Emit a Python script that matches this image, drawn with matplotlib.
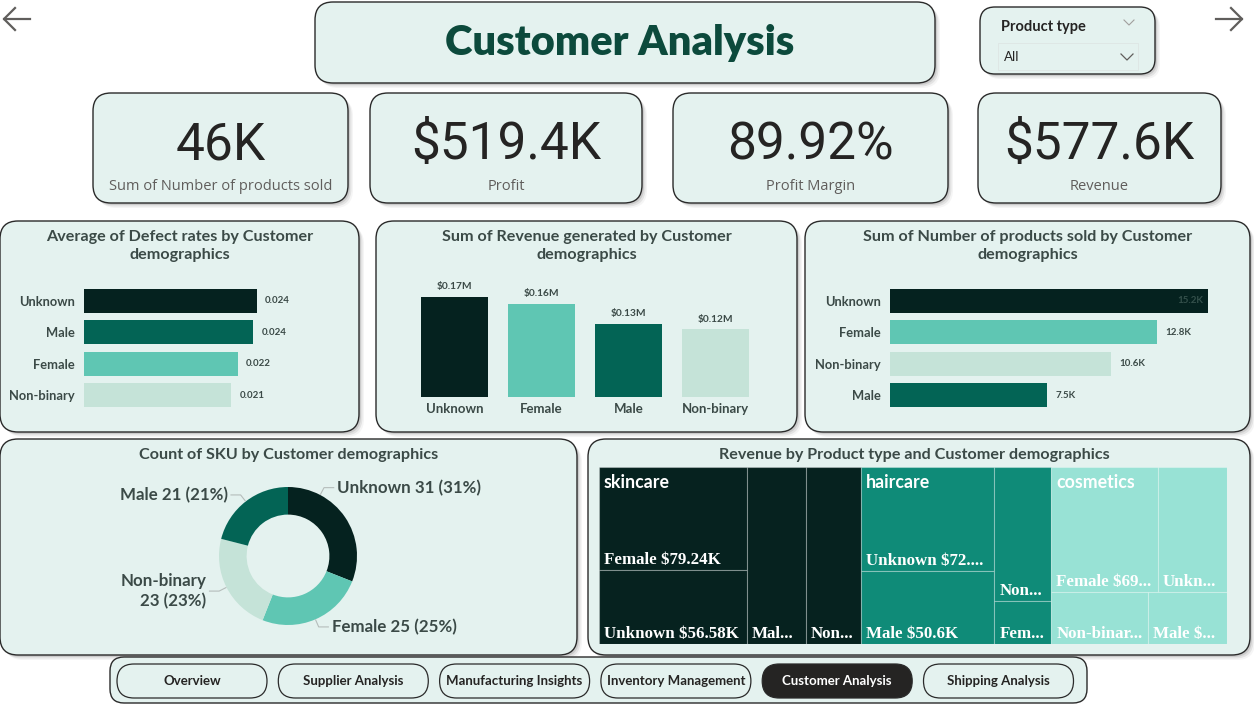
import matplotlib
matplotlib.use("Agg")
import matplotlib.pyplot as plt
from matplotlib.patches import FancyBboxPatch, Rectangle
import numpy as np

W, H = 1254, 705

# ---- data ----
page_title = "Customer Analysis"
slicer_title = "Product type"
slicer_value = "All"

kpi_values = ["46K", "$519.4K", "89.92%", "$577.6K"]
kpi_labels = ["Sum of Number of products sold", "Profit", "Profit Margin", "Revenue"]

defect_cats = ["Unknown", "Male", "Female", "Non-binary"]
defect_rates = [0.0244, 0.0239, 0.0217, 0.0208]

revenue_cats = ["Unknown", "Female", "Male", "Non-binary"]
revenue_m = [0.1730, 0.1616, 0.1270, 0.1171]

sold_cats = ["Unknown", "Female", "Non-binary", "Male"]
sold_k = [15.22, 12.80, 10.60, 7.51]

sku_cats = ["Unknown", "Female", "Non-binary", "Male"]
sku_counts = [31, 25, 23, 21]

product_types = ["skincare", "haircare", "cosmetics"]
tree_demo = [["Female", "Unknown", "Male", "Non-binary"],
             ["Unknown", "Male", "Non-binary", "Female"],
             ["Female", "Unknown", "Non-binary", "Male"]]
tree_rev = [[79.24, 56.58, 54.20, 50.55],
            [72.45, 50.60, 39.60, 12.80],
            [69.20, 44.70, 26.30, 21.40]]

nav_pages = ["Overview", "Supplier Analysis", "Manufacturing Insights",
             "Inventory Management", "Customer Analysis", "Shipping Analysis"]
active_page = "Customer Analysis"

# ---- styling ----
PANEL = "#E4F2EF"
EDGE = "#2A2A2A"
TXT = "#3B4A47"
FONT = "Lato"
DEMO_COLORS = {"Unknown": "#05221F", "Male": "#036455",
               "Female": "#5FC6B3", "Non-binary": "#C5E3D8"}
TREE_COLORS = {"skincare": "#06221F", "haircare": "#0F8B78", "cosmetics": "#98E2D5"}

fig = plt.figure(figsize=(W / 100, H / 100), dpi=100)
fig.patch.set_facecolor("white")
bg = fig.add_axes([0, 0, 1, 1])
bg.set_xlim(0, W)
bg.set_ylim(H, 0)
bg.axis("off")


def card(x0, y0, x1, y1, r=16, fill=PANEL, edge=EDGE, lw=1.0, shadow=True):
    if shadow:
        for k, a in enumerate([0.10, 0.07, 0.04]):
            off = 2 + k * 1.5
            bg.add_patch(FancyBboxPatch((x0 + off, y0 + off), x1 - x0, y1 - y0,
                                        boxstyle=f"round,pad=0,rounding_size={r}",
                                        fc="black", ec="none", alpha=a, zorder=1))
    bg.add_patch(FancyBboxPatch((x0, y0), x1 - x0, y1 - y0,
                                boxstyle=f"round,pad=0,rounding_size={r}",
                                fc=fill, ec=edge, lw=lw, zorder=2))


def px_axes(x0, y0, x1, y1):
    a = fig.add_axes([x0 / W, 1 - y1 / H, (x1 - x0) / W, (y1 - y0) / H])
    a.set_facecolor("none")
    for s in a.spines.values():
        s.set_visible(False)
    return a


def panel_title(cx, cy, s):
    bg.text(cx, cy, s, ha="center", va="center", fontsize=11.6, fontweight="bold",
            color=TXT, fontfamily=FONT, linespacing=1.3, zorder=5)


# ---- header ----
card(315, 2, 935, 83, r=18)
bg.text(620, 43, page_title, ha="center", va="center", fontsize=30, fontweight="heavy",
        color="#0C4A3C", fontfamily="Lato", zorder=5)

card(980, 7, 1155, 74, r=15)
bg.text(1001, 27, slicer_title, ha="left", va="center", fontsize=10.5, fontweight="bold",
        color="#252423", fontfamily=FONT, zorder=5)
bg.add_patch(Rectangle((998, 43), 140, 27, fc="none", ec="#DDE6E4", lw=0.6, zorder=4))
bg.text(1004, 57, slicer_value, ha="left", va="center", fontsize=9.5,
        color="#252423", fontfamily=FONT, zorder=5)
bg.plot([1124, 1129, 1134], [20, 25, 20], color="#A19F9D", lw=0.8, zorder=5)
bg.plot([1121, 1127, 1133], [54, 60, 54], color="#605E5C", lw=0.9, zorder=5)

# navigation arrows
bg.plot([4, 30], [19, 19], color="#605E5C", lw=1.6, zorder=5)
bg.plot([15, 4, 15], [8, 19, 30], color="#605E5C", lw=1.6, zorder=5)
bg.plot([1216, 1242], [19, 19], color="#605E5C", lw=1.6, zorder=5)
bg.plot([1231, 1242, 1231], [8, 19, 30], color="#605E5C", lw=1.6, zorder=5)

# ---- KPI cards ----
kpi_boxes = [(93, 348), (370, 642), (673, 948), (978, 1221)]
for (x0, x1), val, lab in zip(kpi_boxes, kpi_values, kpi_labels):
    card(x0, 93, x1, 203, r=18)
    bg.text((x0 + x1) / 2, 145, val, ha="center", va="center", fontsize=37,
            color="#252423", fontfamily="Roboto", zorder=5)
    bg.text((x0 + x1) / 2, 186, lab, ha="center", va="center", fontsize=10.5,
            color="#605E5C", fontfamily="Open Sans", zorder=5)

# ---- panel frames ----
card(0, 221, 359, 432, r=18)
card(376, 221, 797, 432, r=18)
card(805, 221, 1250, 432, r=18)
card(0, 439, 577, 655, r=18)
card(588, 439, 1250, 655, r=18)

panel_title(180, 246, "Average of Defect rates by Customer\ndemographics")
panel_title(587, 246, "Sum of Revenue generated by Customer\ndemographics")
panel_title(1028, 246, "Sum of Number of products sold by Customer\ndemographics")
panel_title(289, 455, "Count of SKU by Customer demographics")
panel_title(914, 455, "Revenue by Product type and Customer demographics")

# ---- defect rates (horizontal bars) ----
ax = px_axes(84, 285, 300, 411)
y = np.arange(len(defect_cats))
ax.barh(y, defect_rates, height=0.76, color=[DEMO_COLORS[c] for c in defect_cats])
ax.set_ylim(len(defect_cats) - 0.5, -0.5)
ax.set_xlim(0, 0.0305)
ax.set_xticks([])
ax.set_yticks(y, defect_cats)
ax.tick_params(axis="y", length=0, pad=6.5)
for lab in ax.get_yticklabels():
    lab.set(fontfamily=FONT, fontweight="bold", fontsize=9.3, color=TXT)
for yi, v in zip(y, defect_rates):
    ax.annotate(f"{v:.3f}", (v, yi), xytext=(6, 0), textcoords="offset points",
                ha="left", va="center", fontsize=7, fontweight="bold",
                color=TXT, fontfamily=FONT)

# ---- revenue (columns) ----
ax = px_axes(411, 290, 759, 397)
x = np.arange(len(revenue_cats))
ax.bar(x, revenue_m, width=0.77, color=[DEMO_COLORS[c] for c in revenue_cats])
ax.set_xlim(-0.5, len(revenue_cats) - 0.5)
ax.set_ylim(0, 0.185)
ax.set_yticks([])
ax.set_xticks(x, revenue_cats)
ax.tick_params(axis="x", length=0, pad=4)
for lab in ax.get_xticklabels():
    lab.set(fontfamily=FONT, fontweight="bold", fontsize=9.5, color=TXT)
for xi, v in zip(x, revenue_m):
    ax.annotate(f"${v:.2f}M", (xi, v), xytext=(0, 4), textcoords="offset points",
                ha="center", va="bottom", fontsize=7.3, fontweight="bold",
                color=TXT, fontfamily=FONT)

# ---- products sold (horizontal bars) ----
ax = px_axes(890, 285, 1240, 411)
y = np.arange(len(sold_cats))
ax.barh(y, sold_k, height=0.76, color=[DEMO_COLORS[c] for c in sold_cats])
ax.set_ylim(len(sold_cats) - 0.5, -0.5)
ax.set_xlim(0, 16.77)
ax.set_xticks([])
ax.set_yticks(y, sold_cats)
ax.tick_params(axis="y", length=0, pad=6.5)
for lab in ax.get_yticklabels():
    lab.set(fontfamily=FONT, fontweight="bold", fontsize=9.3, color=TXT)
for yi, v in zip(y, sold_k):
    inside = v == max(sold_k)
    ax.annotate(f"{v:.1f}K", (v, yi), xytext=(-3 if inside else 6, 0),
                textcoords="offset points", ha="right" if inside else "left",
                va="center", fontsize=7, fontweight="bold",
                color="#34504B" if inside else TXT, fontfamily=FONT)

# ---- SKU donut ----
R_PX = 69
ax = px_axes(288 - 100, 556 - 100, 288 + 100, 556 + 100)
wedges, _ = ax.pie(sku_counts, colors=[DEMO_COLORS[c] for c in sku_cats], startangle=90,
                   counterclock=False, radius=1,
                   wedgeprops=dict(width=0.40, edgecolor="none"))
ax.set_xlim(-100 / R_PX, 100 / R_PX)
ax.set_ylim(-100 / R_PX, 100 / R_PX)
total = sum(sku_counts)
leader_shift = [28, 0, 0, 0]  # Power BI nudges the first label upwards
for w, name, n, shift in zip(wedges, sku_cats, sku_counts, leader_shift):
    ang = np.deg2rad((w.theta1 + w.theta2) / 2 + shift)
    ex, ey = np.cos(ang), np.sin(ang)
    bx, by = 1.12 * ex, 1.12 * ey
    side = 1 if ex >= 0 else -1
    tx = bx + side * 0.14
    ax.plot([1.01 * ex, bx, tx], [1.01 * ey, by, by], color="#B5BDBB", lw=0.8,
            clip_on=False)
    pct = round(100 * n / total)
    text = f"{name} {n} ({pct}%)" if len(name) <= 7 else f"{name}\n{n} ({pct}%)"
    ax.text(tx + side * 0.05, by, text, ha="left" if side > 0 else "right",
            va="center", fontsize=12.2, fontweight="bold", color=TXT,
            fontfamily=FONT, linespacing=1.25, multialignment="right" if side < 0 else "left",
            clip_on=False)

# ---- treemap ----
PHI = (1 + 5 ** 0.5) / 2


def squarify(values, x0, y0, x1, y1):
    # squarified layout (same rule as d3.treemapSquarify, ratio = golden ratio)
    rects = []
    remaining = float(sum(values))
    i0, n = 0, len(values)
    while i0 < n:
        dx, dy = x1 - x0, y1 - y0
        s = vmin = vmax = values[i0]
        i1 = i0 + 1
        alpha = max(dy / dx, dx / dy) / (remaining * PHI)
        beta = s * s * alpha
        best = max(vmax / beta, beta / vmin)
        while i1 < n:
            v = values[i1]
            s2, mn, mx = s + v, min(vmin, v), max(vmax, v)
            beta = s2 * s2 * alpha
            r = max(mx / beta, beta / mn)
            if r > best:
                break
            s, vmin, vmax, best = s2, mn, mx, r
            i1 += 1
        row = values[i0:i1]
        if dx < dy:
            h = dy * s / remaining
            xa = x0
            for v in row:
                rects.append((xa, y0, dx * v / s, h))
                xa += dx * v / s
            y0 += h
        else:
            wdt = dx * s / remaining
            ya = y0
            for v in row:
                rects.append((x0, ya, wdt, dy * v / s))
                ya += dy * v / s
            x0 += wdt
        remaining -= s
        i0 = i1
    return rects


def kfmt(v):
    return "$" + f"{v:.2f}".rstrip("0").rstrip(".") + "K"


TW, TH = 628, 177
ax = px_axes(599, 467, 599 + TW, 467 + TH)
ax.set_xlim(0, TW)
ax.set_ylim(TH, 0)
ax.set_xticks([])
ax.set_yticks([])
renderer = fig.canvas.get_renderer()


def fit_text(x0, y0, s, max_w, **kw):
    t = ax.text(x0, y0, s, **kw)
    if t.get_window_extent(renderer).width <= max_w:
        return
    for k in range(len(s) - 1, 0, -1):
        t.set_text(s[:k] + "...")
        if t.get_window_extent(renderer).width <= max_w:
            return
    t.remove()


groups = squarify([sum(v) for v in tree_rev], 0, 0, TW, TH)
for g, (gx, gy, gw, gh) in enumerate(groups):
    col = TREE_COLORS[product_types[g]]
    cells = squarify(tree_rev[g], gx, gy, gx + gw, gy + gh)
    for (cx, cy, cw, ch), demo, v in zip(cells, tree_demo[g], tree_rev[g]):
        ax.add_patch(Rectangle((cx, cy), cw, ch, fc=col, ec=(1, 1, 1, 0.28), lw=0.8))
        fit_text(cx + 5, cy + ch - 6, f"{demo} {kfmt(v)}", cw - 10, ha="left",
                 va="baseline", fontsize=12.2, fontweight="bold", color="white",
                 fontfamily="Liberation Serif")
    ax.text(gx + 5, gy + 16, product_types[g], ha="left", va="center", fontsize=12.8,
            fontweight="bold", color="white", fontfamily=FONT)

# ---- page navigation ----
card(110, 657, 1087, 703, r=14, shadow=False)
for i, page in enumerate(nav_pages):
    x0 = 117 + i * 161.3
    active = page == active_page
    bg.add_patch(FancyBboxPatch((x0, 664), 150, 34, boxstyle="round,pad=0,rounding_size=17",
                                fc="#252423" if active else PANEL, ec=EDGE, lw=0.9, zorder=3))
    bg.text(x0 + 75, 681, page, ha="center", va="center", fontsize=9.5, fontweight="bold",
            color="white" if active else "#252423", fontfamily=FONT, zorder=5)

fig.savefig("out.png", dpi=100, facecolor="white")
